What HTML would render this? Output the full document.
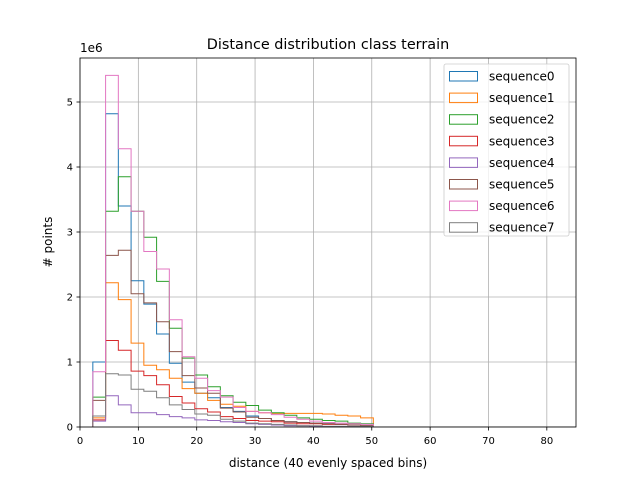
<!DOCTYPE html>
<html><head><meta charset="utf-8"><style>
body{margin:0;background:#fff}
svg text{font-family:"DejaVu Sans","Liberation Sans",sans-serif;fill:#000}
</style></head><body>
<svg id="chart" width="640" height="480" viewBox="0 0 640 480" xmlns="http://www.w3.org/2000/svg">
<rect width="640" height="480" fill="#fff"/>
<text x="328" y="49" font-size="14.4" text-anchor="middle">Distance distribution class terrain</text>
<text x="80" y="52" font-size="12">1e6</text>
<g id="grid"></g><g id="series"></g><g id="axes"></g>
<text x="328" y="467" font-size="12" text-anchor="middle">distance (40 evenly spaced bins)</text>
<text transform="translate(52,242) rotate(-90)" font-size="12" text-anchor="middle"># points</text>
<g id="legend"></g>
</svg>
<script>
const seriesNames=["sequence0","sequence1","sequence2","sequence3","sequence4","sequence5","sequence6","sequence7"];
const colors=["#1f77b4","#ff7f0e","#2ca02c","#d62728","#9467bd","#8c564b","#e377c2","#7f7f7f"];
const binStart=2.2, binWidth=2.185, binCount=40;
const xTicks=[0,10,20,30,40,50,60,70,80];
const yTicks=[0,1,2,3,4,5];
const seq0=[1.0,4.82,3.40,2.25,1.89,1.43,0.98,0.69,0.52,0.45,0.30,0.24,0.17,0.13,0.10,0.08,0.07,0.06,0.05,0.04,0.03,0.02];
const seq1=[0.14,2.22,1.96,1.29,0.95,0.88,0.75,0.59,0.52,0.41,0.35,0.32,0.24,0.22,0.21,0.21,0.21,0.21,0.20,0.18,0.17,0.14];
const seq2=[0.46,3.32,3.85,3.32,2.92,2.24,1.52,1.06,0.80,0.62,0.48,0.38,0.33,0.26,0.22,0.18,0.14,0.12,0.10,0.09,0.06,0.05];
const seq3=[0.11,1.33,1.18,0.86,0.79,0.65,0.47,0.37,0.28,0.23,0.16,0.13,0.10,0.09,0.08,0.06,0.05,0.05,0.04,0.04,0.03,0.02];
const seq4=[0.09,0.48,0.34,0.22,0.22,0.19,0.16,0.14,0.11,0.10,0.08,0.07,0.05,0.04,0.03,0.02,0.02,0.01,0.01,0.01,0.01,0.01];
const seq5=[0.41,2.64,2.72,2.05,1.91,1.62,1.16,0.79,0.60,0.52,0.29,0.23,0.15,0.13,0.10,0.08,0.07,0.06,0.05,0.04,0.03,0.02];
const seq6=[0.85,5.41,4.28,3.32,2.70,2.43,1.65,1.08,0.75,0.56,0.46,0.30,0.24,0.22,0.19,0.15,0.12,0.09,0.07,0.06,0.05,0.04];
const seq7=[0.17,0.82,0.80,0.58,0.55,0.45,0.34,0.27,0.20,0.18,0.12,0.09,0.06,0.05,0.04,0.03,0.02,0.02,0.01,0.01,0.01,0.01];
const allSeries=[seq0,seq1,seq2,seq3,seq4,seq5,seq6,seq7];
const L=80,R=576,T=58,B=427,xMax=85,yMax=5.677;
const X=v=>L+v/xMax*(R-L), Y=v=>B-v/yMax*(B-T);
const NS="http://www.w3.org/2000/svg";
function mk(t,a,p){const e=document.createElementNS(NS,t);for(const k in a)e.setAttribute(k,a[k]);p.appendChild(e);return e;}
const grid=document.getElementById('grid'),axes=document.getElementById('axes'),ser=document.getElementById('series'),leg=document.getElementById('legend');
const defs=mk('defs',{},document.getElementById('chart'));
const cp=mk('clipPath',{id:'cp'},defs);mk('rect',{x:L,y:T,width:R-L,height:B-T},cp);
xTicks.forEach(t=>{
 const g=mk('line',{x1:X(t),x2:X(t),y1:T,y2:B,stroke:'#b0b0b0','stroke-width':0.8},grid);
 
 mk('line',{x1:X(t),x2:X(t),y1:B,y2:B+3.5,stroke:'#000','stroke-width':0.8},axes);
 const tx=mk('text',{x:X(t),y:B+17,'font-size':10,'text-anchor':'middle'},axes);tx.textContent=t;
 
});
yTicks.forEach(t=>{
 const g=mk('line',{x1:L,x2:R,y1:Y(t),y2:Y(t),stroke:'#b0b0b0','stroke-width':0.8},grid);
 
 mk('line',{x1:L-3.5,x2:L,y1:Y(t),y2:Y(t),stroke:'#000','stroke-width':0.8},axes);
 const tx=mk('text',{x:L-7,y:Y(t)+3.5,'font-size':10,'text-anchor':'end'},axes);tx.textContent=t;
 
});
const fr=mk('rect',{x:L,y:T,width:R-L,height:B-T,fill:'none',stroke:'#000','stroke-width':0.8},axes);

allSeries.forEach((vals,i)=>{
 let d='M'+X(binStart)+','+Y(0);
 for(let b=0;b<binCount;b++){const v=b<vals.length?vals[b]:0;
  d+=' L'+X(binStart+b*binWidth)+','+Y(v)+' L'+X(binStart+(b+1)*binWidth)+','+Y(v);}
 d+=' L'+X(binStart+binCount*binWidth)+','+Y(0);
 const p=mk('path',{d:d,fill:'none',stroke:colors[i],'stroke-width':1,'clip-path':'url(#cp)'},ser);
 
 
});
const lb=mk('rect',{x:444,y:64,width:125,height:172,rx:2,fill:'#fff','fill-opacity':0.8,stroke:'#ccc','stroke-width':0.8},leg);

seriesNames.forEach((n,i)=>{
 const y=76+i*21.6;
 const g=mk('g',{},leg);
 
 
 mk('rect',{x:449.5,y:y-4.5,width:28,height:9.5,fill:'none',stroke:colors[i],'stroke-width':1},g);
 const t=mk('text',{x:489,y:y+4.5,'font-size':12},g);t.textContent=n;
});
</script>
</body></html>
